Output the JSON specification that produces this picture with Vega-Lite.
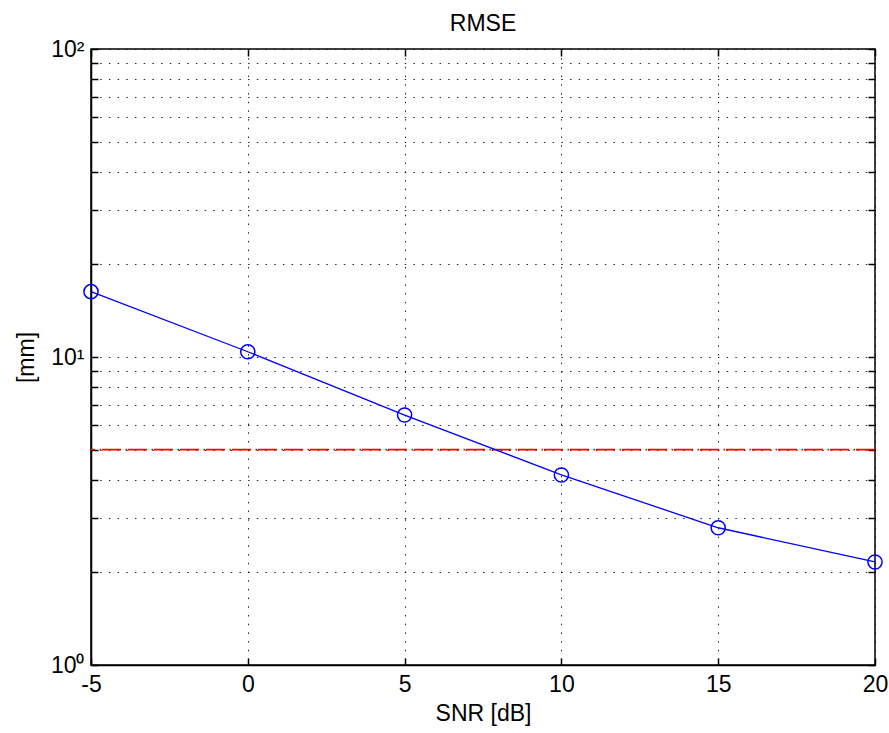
{
  "$schema": "https://vega.github.io/schema/vega-lite/v6.json",
  "autosize": {"type": "none"},
  "width": 784,
  "height": 616,
  "padding": {"left": 91, "top": 49, "right": 14, "bottom": 68},
  "background": "white",
  "title": {"text": "RMSE", "fontSize": 23, "fontWeight": "normal", "font": "Liberation Sans", "color": "#000000", "offset": 2},
  "config": {
    "view": {"stroke": "#000000", "strokeWidth": 1.5},
    "axis": {
      "labelFont": "Liberation Sans",
      "labelFontSize": 23,
      "labelColor": "#000000",
      "titleFont": "Liberation Sans",
      "titleFontSize": 23,
      "titleFontWeight": "normal",
      "titleColor": "#000000",
      "domainColor": "#000000",
      "domainWidth": 1.5,
      "tickColor": "#000000",
      "tickWidth": 1.5,
      "tickSize": -7,
      "gridColor": "#000000",
      "gridOpacity": 0.85,
      "gridDash": [1.5, 7.2],
      "gridWidth": 1,
      "labelFlush": false,
      "labelOverlap": false
    }
  },
  "datasets": {
    "rmse": [
      {"snr": -5, "rmse": 16.3},
      {"snr": 0, "rmse": 10.4},
      {"snr": 5, "rmse": 6.48},
      {"snr": 10, "rmse": 4.14},
      {"snr": 15, "rmse": 2.79},
      {"snr": 20, "rmse": 2.16}
    ],
    "thr": [{"level": 5}]
  },
  "layer": [
    {
      "data": {"name": "rmse"},
      "mark": {"type": "point", "opacity": 0},
      "encoding": {
        "x": {"field": "snr", "type": "quantitative", "scale": {"domain": [-5, 20], "nice": false, "zero": false},
              "axis": {"orient": "top", "values": [-5, 0, 5, 10, 15, 20], "labels": false, "title": null, "grid": false, "domain": false}},
        "y": {"field": "rmse", "type": "quantitative", "scale": {"type": "log", "domain": [1, 100], "nice": false},
              "axis": {"orient": "right", "values": [1,2,3,4,5,6,7,8,9,10,20,30,40,50,60,70,80,90,100], "labels": false, "title": null, "grid": false, "domain": false}}
      }
    },
    {
      "data": {"name": "rmse"},
      "mark": {"type": "point", "opacity": 0},
      "encoding": {
        "x": {"field": "snr", "type": "quantitative",
              "axis": {"orient": "bottom", "values": [-5, 0, 5, 10, 15, 20], "title": "SNR [dB]", "grid": true, "labelPadding": 15, "titlePadding": 6,
                       "labelExpr": "datum.value < 0 ? '-' + abs(datum.value) : datum.label"}},
        "y": {"field": "rmse", "type": "quantitative",
              "axis": {"orient": "left", "values": [1,2,3,4,5,6,7,8,9,10,20,30,40,50,60,70,80,90,100], "title": "[mm]", "grid": true, "labelPadding": 14, "titlePadding": 12,
                       "labelExpr": "datum.value == 1 ? '10⁰' : datum.value == 10 ? '10¹' : datum.value == 100 ? '10²' : ''"}}
      }
    },
    {
      "data": {"name": "thr"},
      "mark": {"type": "rule", "color": "#FF0000", "strokeWidth": 1.8, "strokeDash": [19, 1, 1.5, 4.5]},
      "encoding": {
        "y": {"field": "level", "type": "quantitative", "axis": null}
      }
    },
    {
      "data": {"name": "rmse"},
      "mark": {"type": "line", "color": "#0000FF", "strokeWidth": 1.3},
      "encoding": {
        "x": {"field": "snr", "type": "quantitative", "axis": null},
        "y": {"field": "rmse", "type": "quantitative", "axis": null}
      }
    },
    {
      "data": {"name": "rmse"},
      "mark": {"type": "point", "shape": "circle", "filled": false, "color": "#0000FF", "size": 200, "strokeWidth": 1.5, "opacity": 1},
      "encoding": {
        "x": {"field": "snr", "type": "quantitative", "axis": null},
        "y": {"field": "rmse", "type": "quantitative", "axis": null}
      }
    }
  ],
  "resolve": {"axis": {"x": "independent", "y": "independent"}}
}
